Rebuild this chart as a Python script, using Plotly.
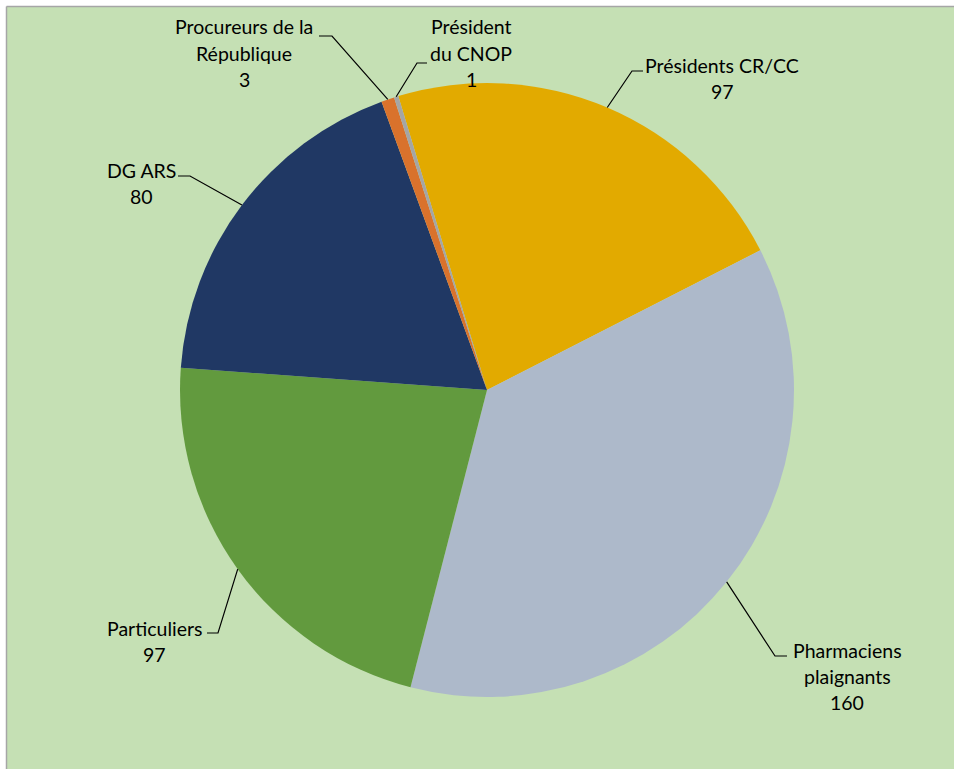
import math
import plotly.graph_objects as go

labels = ["Présidents CR/CC", "Pharmaciens plaignants", "Particuliers", "DG ARS",
          "Procureurs de la République", "Président du CNOP"]
label_lines = [["Présidents CR/CC"], ["Pharmaciens", "plaignants"], ["Particuliers"], ["DG ARS"],
               ["Procureurs de la", "République"], ["Président", "du CNOP"]]
values = [97, 160, 97, 80, 3, 1]
colors = ["#E2AA00", "#ADB9CA", "#629A3E", "#203864", "#D9722C", "#A5A5A5"]

W, H = 954, 769
CX, CY, R = 487, 390, 307
ROT = -16.8

# label layout (pixels): text center x, first line y, elbow point, end of horizontal tick
label_layout = [
    dict(tx=722, ty=65, elbow=(632, 71), tick=(643, 71)),
    dict(tx=847, ty=650, elbow=(775, 656), tick=(787, 656)),
    dict(tx=154, ty=628, elbow=(218, 633), tick=(207, 633)),
    dict(tx=141, ty=170, elbow=(190, 176), tick=(178, 176)),
    dict(tx=244, ty=27, elbow=(332, 36), tick=(319, 36)),
    dict(tx=471, ty=27, elbow=(417, 63), tick=(427, 63)),
]
LINE_H = 26.2

def px(x):
    return x / W

def py(y):
    return 1 - y / H

fig = go.Figure()
fig.add_trace(go.Pie(
    labels=labels, values=values, sort=False, direction="clockwise", rotation=ROT,
    marker=dict(colors=colors, line=dict(width=0)), textinfo="none",
    showlegend=False,
    domain=dict(x=[px(CX - R), px(CX + R)], y=[py(CY + R), py(CY - R)]),
))

B = 6.5
shapes = [
    dict(type="rect", xref="paper", yref="paper", x0=px(B), x1=1.0, y0=0.0, y1=py(B),
         fillcolor="#C5E0B4", line=dict(width=0), layer="below"),
    dict(type="line", xref="paper", yref="paper", x0=px(B), x1=1.0, y0=py(B), y1=py(B),
         line=dict(color="#A6A6A6", width=1.5), layer="below"),
    dict(type="line", xref="paper", yref="paper", x0=px(B), x1=px(B), y0=0.0, y1=py(B),
         line=dict(color="#A6A6A6", width=1.5), layer="below"),
]
annotations = []
total = sum(values)
cum = 0
FONT = dict(family="Lato, Calibri, sans-serif", size=19.5, color="#000000")
for i, v in enumerate(values):
    mid = ROT + (cum + v / 2) / total * 360
    cum += v
    a = math.radians(mid)
    ax, ay = CX + R * math.sin(a), CY - R * math.cos(a)
    L = label_layout[i]
    ex, ey = L["elbow"]
    kx, ky = L["tick"]
    shapes.append(dict(type="path", xref="paper", yref="paper",
                       path=f"M {px(ax)},{py(ay)} L {px(ex)},{py(ey)} L {px(kx)},{py(ky)}",
                       line=dict(color="#000000", width=1.2)))
    lines = label_lines[i] + [str(v)]
    for j, t in enumerate(lines):
        annotations.append(dict(text=t, x=px(L["tx"]), y=py(L["ty"] + j * LINE_H),
                                xref="paper", yref="paper", xanchor="center", yanchor="middle",
                                showarrow=False, font=FONT))

fig.update_layout(width=W, height=H, margin=dict(l=0, r=0, t=0, b=0),
                  paper_bgcolor="#FFFFFF", plot_bgcolor="#FFFFFF",
                  shapes=shapes, annotations=annotations)
fig.write_html("out.html", config={"displayModeBar": False},
               post_script="document.body.style.margin='0';document.body.style.padding='0';"
                           "document.body.style.overflow='hidden';")
